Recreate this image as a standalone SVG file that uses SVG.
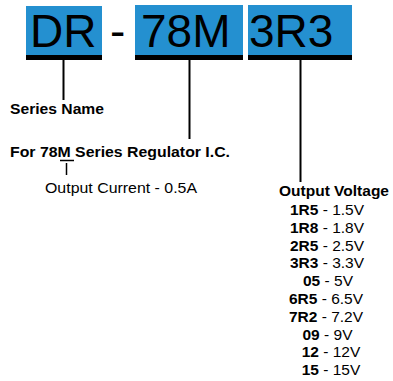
<svg xmlns="http://www.w3.org/2000/svg" width="393" height="381" viewBox="0 0 393 381">
<style>
.box{fill:#2490d0}
.bar{fill:#000}
.big{font-family:"Liberation Sans",Arial,sans-serif;font-size:46px;fill:#000}
.lbl{font-family:"Liberation Sans",Arial,sans-serif;font-size:15px;fill:#000}
.row{font-family:"Liberation Sans",Arial,sans-serif;font-size:15.5px;fill:#000}
.b{font-weight:bold}
.ln{stroke:#000;stroke-width:2;fill:none}
</style>
<rect width="393" height="381" fill="#fff"/>
<g id="node-dr">
<rect class="box" x="26" y="6" width="76" height="50"/>
<rect class="bar" x="26" y="55" width="76" height="5"/>
<text class="big" x="30" y="47">DR</text>
</g>
<g id="node-dash">
<text class="big" x="110" y="47">-</text>
</g>
<g id="node-78m">
<rect class="box" x="135" y="5" width="108" height="51"/>
<rect class="bar" x="135" y="55" width="108" height="5"/>
<text class="big" x="141" y="47">78M</text>
</g>
<g id="node-3r3">
<rect class="box" x="248" y="5" width="104" height="51"/>
<rect class="bar" x="248" y="55" width="104" height="5"/>
<text class="big" x="249" y="47">3R3</text>
</g>
<g id="connectors">
<line class="ln" x1="63.5" y1="60" x2="63.5" y2="100"/>
<line class="ln" x1="189.5" y1="60" x2="189.5" y2="139"/>
<line class="ln" x1="300.5" y1="60" x2="300.5" y2="182"/>
<line class="ln" x1="66.5" y1="163" x2="66.5" y2="175" style="stroke-width:1.5"/>
</g>
<g id="label-series">
<text class="lbl b" x="10" y="114" textLength="94" lengthAdjust="spacingAndGlyphs">Series Name</text>
</g>
<g id="label-for78m">
<text class="lbl b" x="10" y="157" textLength="220" lengthAdjust="spacingAndGlyphs">For 78M Series Regulator I.C.</text>
<line x1="60" y1="160.5" x2="74" y2="160.5" stroke="#000" stroke-width="1.5"/>
<text class="lbl" x="45" y="193" textLength="152" lengthAdjust="spacingAndGlyphs">Output Current - 0.5A</text>
</g>
<g id="label-voltage">
<text class="lbl b" x="279" y="196" textLength="110" lengthAdjust="spacingAndGlyphs">Output Voltage</text>
<g text-anchor="middle">
<text class="row" x="327" y="215"><tspan class="b">1R5</tspan> - 1.5V</text>
<text class="row" x="327" y="232.8"><tspan class="b">1R8</tspan> - 1.8V</text>
<text class="row" x="327" y="250.6"><tspan class="b">2R5</tspan> - 2.5V</text>
<text class="row" x="327" y="268.4"><tspan class="b">3R3</tspan> - 3.3V</text>
<text class="row" x="328" y="286.2"><tspan class="b">05</tspan> - 5V</text>
<text class="row" x="326" y="304"><tspan class="b">6R5</tspan> - 6.5V</text>
<text class="row" x="326" y="321.8"><tspan class="b">7R2</tspan> - 7.2V</text>
<text class="row" x="327.5" y="339.6"><tspan class="b">09</tspan> - 9V</text>
<text class="row" x="331" y="357.4"><tspan class="b">12</tspan> - 12V</text>
<text class="row" x="331" y="375.2"><tspan class="b">15</tspan> - 15V</text>
</g>
</g>
</svg>
